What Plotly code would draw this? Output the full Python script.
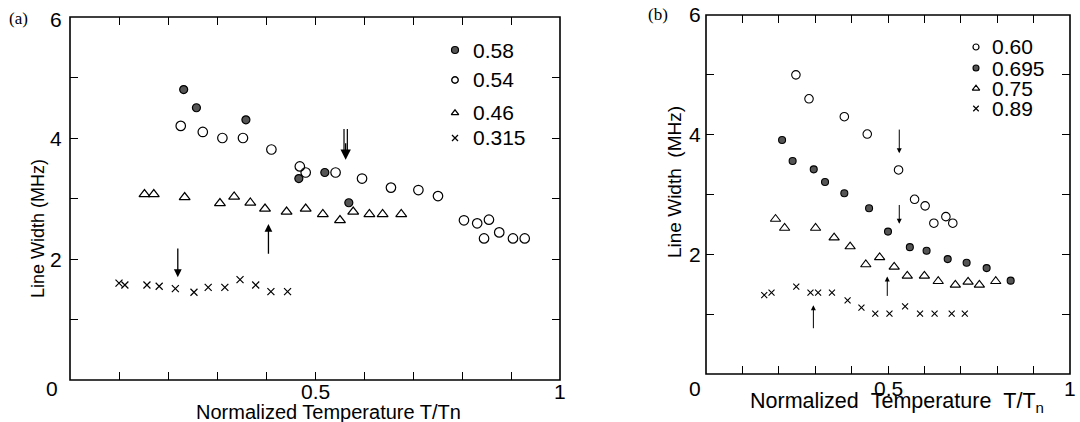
import plotly.graph_objects as go

W, H = 1080, 422

# ---------------- data: panel (a) ----------------
a058_x = [0.232, 0.258, 0.359, 0.467, 0.520, 0.569]
a058_y = [4.80, 4.50, 4.30, 3.33, 3.43, 2.93]
a054_x = [0.226, 0.271, 0.311, 0.353, 0.411, 0.469, 0.481, 0.542, 0.596, 0.655,
          0.711, 0.751, 0.804, 0.831, 0.845, 0.855, 0.876, 0.904, 0.928]
a054_y = [4.20, 4.10, 4.00, 4.00, 3.81, 3.53, 3.43, 3.43, 3.33, 3.18,
          3.14, 3.04, 2.64, 2.59, 2.34, 2.65, 2.44, 2.34, 2.34]
a046_x = [0.152, 0.171, 0.234, 0.306, 0.335, 0.368, 0.398, 0.442, 0.481, 0.516,
          0.551, 0.578, 0.611, 0.638, 0.676]
a046_y = [3.07, 3.07, 3.02, 2.92, 3.03, 2.93, 2.83, 2.78, 2.83, 2.74,
          2.64, 2.78, 2.74, 2.74, 2.74]
a0315_x = [0.100, 0.112, 0.157, 0.182, 0.215, 0.253, 0.282, 0.316, 0.347, 0.379, 0.410, 0.444]
a0315_y = [1.60, 1.57, 1.57, 1.55, 1.51, 1.45, 1.53, 1.53, 1.66, 1.57, 1.46, 1.46]

# ---------------- data: panel (b) ----------------
b060_x = [0.247, 0.283, 0.380, 0.443, 0.529, 0.573, 0.602, 0.626, 0.659, 0.678]
b060_y = [5.00, 4.60, 4.30, 4.01, 3.41, 2.92, 2.81, 2.52, 2.63, 2.52]
b0695_x = [0.209, 0.238, 0.296, 0.327, 0.380, 0.448, 0.500, 0.560, 0.606, 0.664, 0.716, 0.771, 0.837]
b0695_y = [3.91, 3.56, 3.42, 3.21, 3.02, 2.77, 2.38, 2.12, 2.06, 1.92, 1.86, 1.77, 1.56]
b075_x = [0.191, 0.216, 0.301, 0.352, 0.396, 0.439, 0.477, 0.517, 0.553, 0.600,
          0.638, 0.685, 0.720, 0.751, 0.796]
b075_y = [2.59, 2.44, 2.44, 2.28, 2.13, 1.83, 1.95, 1.79, 1.64, 1.64,
          1.55, 1.49, 1.54, 1.49, 1.55]
b089_x = [0.160, 0.180, 0.248, 0.287, 0.308, 0.346, 0.389, 0.427, 0.465, 0.504,
          0.547, 0.588, 0.628, 0.675, 0.711]
b089_y = [1.32, 1.36, 1.46, 1.36, 1.36, 1.36, 1.23, 1.11, 1.01, 1.01,
          1.13, 1.01, 1.01, 1.01, 1.01]

# arrows: (x, y_tail, y_tip)
a_arrows = [(0.220, 2.20, 1.70), (0.405, 2.06, 2.58)]
a_double_arrow = (0.5626, 4.15, 3.64)
b_arrows = [(0.531, 4.11, 3.69), (0.531, 2.85, 2.51), (0.498, 1.28, 1.63), (0.295, 0.74, 1.15)]

legend_a = ["0.58", "0.54", "0.46", "0.315"]
legend_b = ["0.60", "0.695", "0.75", "0.89"]

x_tickvals = [0.1, 0.2, 0.3, 0.4, 0.5, 0.6, 0.7, 0.8, 0.9]
x_labelvals = [0.5, 1]
x_labeltext = ["0.5", "1"]
y_tickvals = [1, 2, 3, 4, 5]
y_labelvals = [0, 2, 4, 6]
y_labeltext = ["0", "2", "4", "6"]

FONT = "Liberation Sans, Arial, Helvetica, sans-serif"
SERIF = "Liberation Serif, Times New Roman, serif"
FILL = "#555555"

# subplot pixel frames: (left, right, top, bottom)
FRAME_A = (70, 560, 17, 380)
FRAME_B = (706, 1070, 15, 374)

def px(x):
    return x / W

def py(y):
    return 1 - y / H

def to_data(frame, xp, yp):
    l, r, t, b = frame
    return (xp - l) / (r - l), (b - yp) / (b - t) * 6

fig = go.Figure()

def mk(symbol, size, fill, lw=1.2):
    return dict(symbol=symbol, size=size, color=fill, line=dict(color="black", width=lw))

# panel a traces
fig.add_trace(go.Scatter(x=a054_x, y=a054_y, mode="markers", xaxis="x", yaxis="y",
                         marker=mk("circle-open", 9.5, "black", 1.2)))
fig.add_trace(go.Scatter(x=a058_x, y=a058_y, mode="markers", xaxis="x", yaxis="y",
                         marker=mk("circle", 8, FILL, 1.2)))
fig.add_trace(go.Scatter(x=a046_x, y=a046_y, mode="markers", xaxis="x", yaxis="y",
                         marker=mk("triangle-up-open", 9.5, "black", 1.2)))
fig.add_trace(go.Scatter(x=a0315_x, y=a0315_y, mode="markers", xaxis="x", yaxis="y",
                         marker=mk("x-thin", 7, "black", 1.2)))

# panel b traces
fig.add_trace(go.Scatter(x=b060_x, y=b060_y, mode="markers", xaxis="x2", yaxis="y2",
                         marker=mk("circle-open", 8.5, "black", 1.1)))
fig.add_trace(go.Scatter(x=b0695_x, y=b0695_y, mode="markers", xaxis="x2", yaxis="y2",
                         marker=mk("circle", 7, FILL, 1.1)))
fig.add_trace(go.Scatter(x=b075_x, y=b075_y, mode="markers", xaxis="x2", yaxis="y2",
                         marker=mk("triangle-up-open", 9, "black", 1.1)))
fig.add_trace(go.Scatter(x=b089_x, y=b089_y, mode="markers", xaxis="x2", yaxis="y2",
                         marker=mk("x-thin", 6, "black", 1.1)))

# custom legends
leg_a_sym = [mk("circle", 7, FILL, 1.2), mk("circle-open", 6.5, "black", 1.4),
             mk("triangle-up-open", 6.5, "black", 1.3), mk("x-thin", 6, "black", 1.3)]
leg_a_rows = [50, 80, 113, 138]
leg_b_sym = [mk("circle-open", 6, "black", 1.2), mk("circle", 6, FILL, 1.1),
             mk("triangle-up-open", 6.5, "black", 1.2), mk("x-thin", 5.5, "black", 1.2)]
leg_b_rows = [47, 68, 88.5, 108.5]

for sym, yy in zip(leg_a_sym, leg_a_rows):
    lx, ly = to_data(FRAME_A, 455, yy)
    fig.add_trace(go.Scatter(x=[lx], y=[ly], mode="markers", xaxis="x", yaxis="y", marker=sym))
for sym, yy in zip(leg_b_sym, leg_b_rows):
    lx, ly = to_data(FRAME_B, 976, yy)
    fig.add_trace(go.Scatter(x=[lx], y=[ly], mode="markers", xaxis="x2", yaxis="y2", marker=sym))

annotations = []
for lab, yy in zip(legend_a, leg_a_rows):
    annotations.append(dict(x=px(471), y=py(yy), xref="paper", yref="paper", text=lab,
                            showarrow=False, xanchor="left", yanchor="middle",
                            font=dict(family=FONT, size=21, color="black")))
for lab, yy in zip(legend_b, leg_b_rows):
    annotations.append(dict(x=px(990), y=py(yy), xref="paper", yref="paper", text=lab,
                            showarrow=False, xanchor="left", yanchor="middle",
                            font=dict(family=FONT, size=21, color="black")))

# tick labels
def tick_labels(xref, yref, yshift_x, xshift_y, yshift_zero, xshift_zero, yshift_top):
    for v, t in zip(x_labelvals, x_labeltext):
        annotations.append(dict(x=v, y=0, xref=xref, yref=yref + " domain", text=t,
                                showarrow=False, xanchor="center", yanchor="middle",
                                yshift=yshift_x, font=dict(family=FONT, size=21, color="black")))
    for v, t in zip(y_labelvals, y_labeltext):
        extra_y = yshift_zero if v == 0 else (yshift_top if v == 6 else 0)
        extra_x = xshift_zero if v == 0 else 0
        annotations.append(dict(x=0, y=v, xref=xref + " domain", yref=yref, text=t,
                                showarrow=False, xanchor="right", yanchor="middle",
                                xshift=xshift_y + extra_x, yshift=extra_y,
                                font=dict(family=FONT, size=21, color="black")))

tick_labels("x", "y", -11, -6, -8, -4, -2)
tick_labels("x2", "y2", -14, -3, -14, 0, 0)

# arrows
for (xx, yt, yh) in a_arrows:
    annotations.append(dict(x=xx, y=yh, ax=xx, ay=yt, xref="x", yref="y", axref="x", ayref="y",
                            text="", showarrow=True, arrowhead=2, arrowsize=1.2,
                            arrowwidth=1.3, arrowcolor="black"))
dx, dyt, dyh = a_double_arrow
annotations.append(dict(x=dx, y=dyh, ax=dx, ay=dyh + 0.3, xref="x", yref="y", axref="x", ayref="y",
                        text="", showarrow=True, arrowhead=2, arrowsize=1.6,
                        arrowwidth=1.3, arrowcolor="black"))
for (xx, yt, yh) in b_arrows:
    annotations.append(dict(x=xx, y=yh, ax=xx, ay=yt, xref="x2", yref="y2", axref="x2", ayref="y2",
                            text="", showarrow=True, arrowhead=2, arrowsize=1.0,
                            arrowwidth=1.0, arrowcolor="black"))

shapes = []
for off in (-0.0034, 0.0034):
    shapes.append(dict(type="line", xref="x", yref="y", x0=dx + off, x1=dx + off,
                       y0=dyt, y1=dyh + 0.12, line=dict(color="black", width=1.2)))

# frames in paper coordinates
for (l, r, t, b) in (FRAME_A, FRAME_B):
    shapes.append(dict(type="rect", xref="paper", yref="paper", x0=px(l), x1=px(r),
                       y0=py(b), y1=py(t), line=dict(color="black", width=1.6),
                       fillcolor="rgba(0,0,0,0)", layer="above"))

# texts
def txt(x, y, s, size, family=FONT, angle=0, xanchor="center"):
    annotations.append(dict(x=px(x), y=py(y), xref="paper", yref="paper", text=s,
                            showarrow=False, xanchor=xanchor, yanchor="middle", textangle=angle,
                            font=dict(family=family, size=size, color="black")))

txt(18, 18, "(a)", 17, SERIF)
txt(658, 15, "(b)", 17, SERIF)
txt(38, 229, "Line Width (MHz)", 18, angle=-90)
txt(674, 182, "Line Width\u00a0\u00a0(MHz)", 19, angle=-90)
txt(328, 412, "Normalized Temperature T/Tn", 20)
txt(897, 402, "Normalized\u00a0\u00a0Temperature\u00a0\u00a0T/T<sub>n</sub>", 21.5)

def xax(domain, anchor):
    return dict(domain=domain, anchor=anchor, range=[0, 1], showline=False,
                mirror="allticks", ticks="inside", ticklen=8, tickwidth=1.2,
                tickcolor="black", tickvals=x_tickvals, showticklabels=False, showgrid=False,
                zeroline=False)

def yax(domain, anchor):
    return dict(domain=domain, anchor=anchor, range=[0, 6], showline=False,
                mirror="allticks", ticks="inside", ticklen=8, tickwidth=1.2,
                tickcolor="black", tickvals=y_tickvals, showticklabels=False, showgrid=False,
                zeroline=False)

fig.update_layout(
    width=W, height=H, margin=dict(l=0, r=0, t=0, b=0),
    paper_bgcolor="white", plot_bgcolor="white", showlegend=False,
    xaxis=xax([px(FRAME_A[0]), px(FRAME_A[1])], "y"),
    yaxis=yax([py(FRAME_A[3]), py(FRAME_A[2])], "x"),
    xaxis2=xax([px(FRAME_B[0]), px(FRAME_B[1])], "y2"),
    yaxis2=yax([py(FRAME_B[3]), py(FRAME_B[2])], "x2"),
    annotations=annotations, shapes=shapes,
)

fig.write_html("out.html")
